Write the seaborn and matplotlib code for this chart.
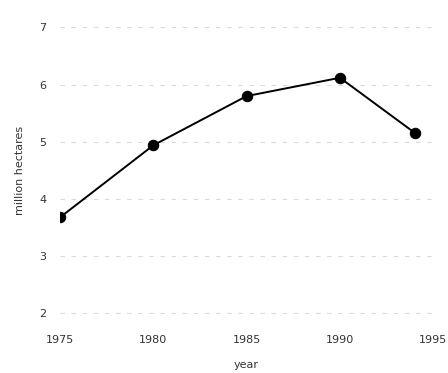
import numpy as np
import pandas as pd
import seaborn as sns
import matplotlib.pyplot as plt

# Data
years = [1975, 1980, 1985, 1990, 1994]
hectares = [3.68, 4.94, 5.80, 6.12, 5.16]

df = pd.DataFrame({'year': years, 'hectares': hectares})

sns.set_style('white')
plt.rcParams['font.family'] = ['DejaVu Sans']

fig = plt.figure(figsize=(4.48, 3.73), dpi=100)
ax = fig.add_axes([0.134, 0.158, 0.833, 0.77])

sns.lineplot(data=df, x='year', y='hectares', ax=ax, color='black',
             marker='o', markersize=7.5, linewidth=1.4, markeredgecolor='black')

ax.set_xlim(1975, 1995)
ax.set_ylim(1.99, 7.01)
ax.set_xticks([1975, 1980, 1985, 1990, 1995])
ax.set_yticks([2, 3, 4, 5, 6, 7])
ax.yaxis.grid(True, color='#d8dcd8', linestyle=(0, (4, 6)), linewidth=0.8)
ax.xaxis.grid(False)
for s in ax.spines.values():
    s.set_visible(False)
ax.tick_params(axis='both', length=0, labelsize=8, colors='#333333')
ax.tick_params(axis='y', pad=10)
ax.tick_params(axis='x', pad=15)
ax.set_xlabel('year', fontsize=8, color='#333333', labelpad=11)
ax.set_ylabel('million hectares', fontsize=8, color='#333333', labelpad=10)

plt.savefig('out.png', dpi=100)
plt.close()
